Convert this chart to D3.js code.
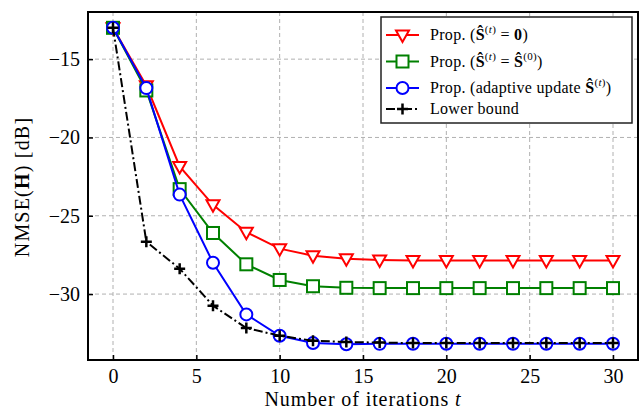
<!DOCTYPE html>
<html>
<head>
<meta charset="utf-8">
<script src="https://cdn.jsdelivr.net/npm/d3@7"></script>
<style>
  body { margin: 0; background: #fff; }
  text { font-family: "Liberation Serif", "DejaVu Serif", serif; }
</style>
</head>
<body>
<div id="chart"></div>
<script>
// Datos
const iteraciones = [0, 2, 4, 6, 8, 10, 12, 14, 16, 18, 20, 22, 24, 26, 28, 30];
const propCero = [-13, -16.7, -21.85, -24.3, -26.05, -27.1, -27.55, -27.75, -27.82, -27.85, -27.85, -27.85, -27.85, -27.85, -27.85, -27.85];
const propInicial = [-13, -17.0, -23.3, -26.1, -28.1, -29.1, -29.5, -29.6, -29.62, -29.62, -29.62, -29.62, -29.62, -29.62, -29.62, -29.62];
const propAdaptativo = [-13, -16.85, -23.65, -28.0, -31.3, -32.66, -33.13, -33.2, -33.18, -33.17, -33.17, -33.17, -33.17, -33.17, -33.17, -33.17];
const cotaInferior = [-13, -26.66, -28.38, -30.74, -32.17, -32.66, -32.98, -33.06, -33.1, -33.13, -33.13, -33.13, -33.13, -33.13, -33.13, -33.13];
const xTicks = [0, 5, 10, 15, 20, 25, 30];
const yTicks = [-15, -20, -25, -30];

const W = 641, H = 409;
const margin = { top: 12, right: 3, bottom: 49, left: 88 };
const width = W - margin.left - margin.right;
const height = H - margin.top - margin.bottom;

const svg = d3.select("#chart").append("svg")
    .attr("width", W)
    .attr("height", H);

const g = svg.append("g")
    .attr("transform", `translate(${margin.left},${margin.top})`);

// Escalas
const x = d3.scaleLinear().domain([-1.5, 31.5]).range([0, width]);
const y = d3.scaleLinear().domain([-34.21, -11.99]).range([height, 0]);

// Rejilla
g.append("g").selectAll("line")
    .data(xTicks).enter().append("line")
    .attr("x1", d => x(d)).attr("x2", d => x(d))
    .attr("y1", 0).attr("y2", height)
    .attr("stroke", "#b0b0b0").attr("stroke-width", 1)
    .attr("stroke-dasharray", "4,3");
g.append("g").selectAll("line")
    .data(yTicks).enter().append("line")
    .attr("x1", 0).attr("x2", width)
    .attr("y1", d => y(d)).attr("y2", d => y(d))
    .attr("stroke", "#b0b0b0").attr("stroke-width", 1)
    .attr("stroke-dasharray", "4,3");

// Ejes (ticks hacia dentro)
const ejeX = g.append("g")
    .attr("transform", `translate(0,${height})`)
    .call(d3.axisBottom(x).tickValues(xTicks).tickSizeInner(-5).tickSizeOuter(0).tickPadding(9));
const ejeY = g.append("g")
    .call(d3.axisLeft(y).tickValues(yTicks).tickSizeInner(-5).tickSizeOuter(0).tickPadding(8)
        .tickFormat(d => "\u2212" + Math.abs(d)));
[ejeX, ejeY].forEach(e => {
    e.select(".domain").remove();
    e.selectAll(".tick line").attr("stroke", "#000").attr("stroke-width", 1.5);
    e.selectAll(".tick text").attr("font-size", 20).attr("fill", "#000")
        .style("font-family", '"Liberation Serif", serif');
});

// Series
const series = [
    { key: "cero", valores: propCero, color: "red", marcador: "tri", dash: null },
    { key: "inicial", valores: propInicial, color: "green", marcador: "sq", dash: null },
    { key: "adapt", valores: propAdaptativo, color: "blue", marcador: "circ", dash: null },
    { key: "cota", valores: cotaInferior, color: "black", marcador: "plus", dash: "9,3,2,3" }
];

const linea = d3.line().x(d => x(d[0])).y(d => y(d[1]));

function dibujarMarcador(sel, tipo, color) {
    if (tipo === "tri") {
        sel.append("path").attr("d", "M-6.5,-4.5L6.5,-4.5L0,7Z")
            .attr("fill", "#fff").attr("stroke", color).attr("stroke-width", 2);
    } else if (tipo === "sq") {
        sel.append("rect").attr("x", -6).attr("y", -6).attr("width", 12).attr("height", 12)
            .attr("fill", "#fff").attr("stroke", color).attr("stroke-width", 2);
    } else if (tipo === "circ") {
        sel.append("circle").attr("r", 6)
            .attr("fill", "#fff").attr("stroke", color).attr("stroke-width", 2);
    } else {
        sel.append("path").attr("d", "M-5.5,0H5.5M0,-5.5V5.5")
            .attr("fill", "none").attr("stroke", color).attr("stroke-width", 2.5);
    }
}

series.forEach(s => {
    const pts = iteraciones.map((t, i) => [t, s.valores[i]]);
    const gs = g.append("g");
    gs.append("path")
        .datum(pts)
        .attr("d", linea)
        .attr("fill", "none")
        .attr("stroke", s.color)
        .attr("stroke-width", 2)
        .attr("stroke-dasharray", s.dash);
    gs.selectAll("g.m")
        .data(pts).enter().append("g")
        .attr("class", "m")
        .attr("transform", d => `translate(${x(d[0])},${y(d[1])})`)
        .each(function () { dibujarMarcador(d3.select(this), s.marcador, s.color); });
});

// Marco
g.append("rect")
    .attr("width", width).attr("height", height)
    .attr("fill", "none").attr("stroke", "#000").attr("stroke-width", 2);

// Títulos de los ejes
svg.append("text")
    .attr("x", margin.left + x(15)).attr("y", 406)
    .attr("text-anchor", "middle").attr("font-size", 20).attr("letter-spacing", 0.9)
    .html('Number of iterations <tspan font-style="italic">t</tspan>');

svg.append("text")
    .attr("transform", `translate(29,${margin.top + height / 2 + 1}) rotate(-90)`)
    .attr("text-anchor", "middle").attr("font-size", 20).attr("letter-spacing", 1.2)
    .html('NMSE(<tspan font-weight="bold">H</tspan>) [dB]');

// Leyenda
const leyenda = svg.append("g").attr("transform", "translate(381,17)");
leyenda.append("rect")
    .attr("width", 251).attr("height", 106)
    .attr("fill", "#fff").attr("stroke", "#222").attr("stroke-width", 1.5);

const etiquetas = [
    'Prop. (<tspan font-weight="bold">Ŝ</tspan><tspan font-size="11" dy="-7">(<tspan font-style="italic">t</tspan>)</tspan><tspan dy="7"> = </tspan><tspan font-weight="bold">0</tspan>)',
    'Prop. (<tspan font-weight="bold">Ŝ</tspan><tspan font-size="11" dy="-7">(<tspan font-style="italic">t</tspan>)</tspan><tspan dy="7"> = </tspan><tspan font-weight="bold">Ŝ</tspan><tspan font-size="11" dy="-7">(0)</tspan><tspan dy="7">)</tspan>',
    'Prop. (adaptive update <tspan font-weight="bold">Ŝ</tspan><tspan font-size="11" dy="-7">(<tspan font-style="italic">t</tspan>)</tspan><tspan dy="7">)</tspan>',
    'Lower bound'
];
const yLey = [18, 44.5, 71, 92];

series.forEach((s, i) => {
    const fila = leyenda.append("g").attr("transform", `translate(0,${yLey[i]})`);
    fila.append("line")
        .attr("x1", 5).attr("x2", 38)
        .attr("stroke", s.color).attr("stroke-width", 2)
        .attr("stroke-dasharray", s.dash);
    const mk = fila.append("g").attr("transform", "translate(21.5,0)");
    dibujarMarcador(mk, s.marcador, s.color);
    fila.append("text")
        .attr("x", 49).attr("y", 5)
        .attr("font-size", 16).attr("letter-spacing", 0.3)
        .html(etiquetas[i]);
});
</script>
</body>
</html>
